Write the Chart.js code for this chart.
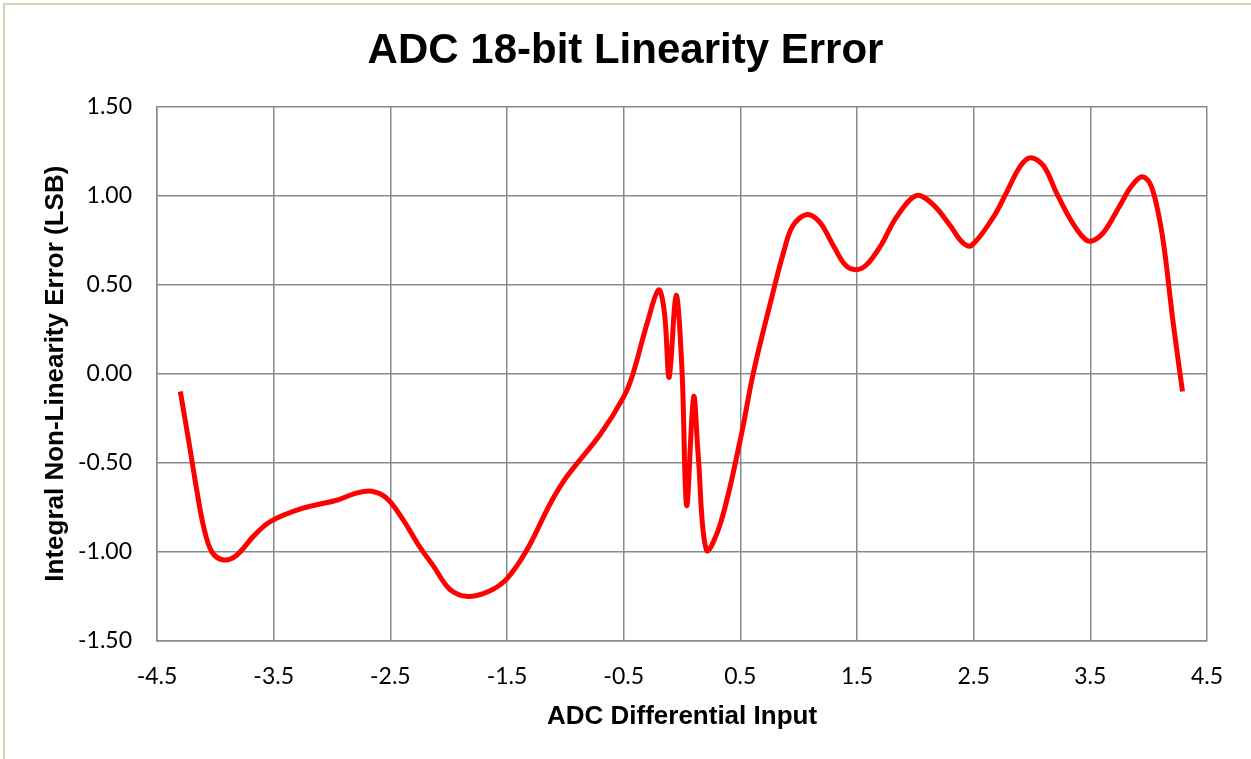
<!DOCTYPE html>
<html lang="en">
<head>
    <meta charset="UTF-8">
    <title>ADC 18-bit Linearity Error</title>
    <script src="https://cdn.jsdelivr.net/npm/chart.js"></script>
    <style>
        body { margin:0; background:#fff; }
        #frame { position:absolute; left:3px; top:3px; width:1300px; height:800px; border:2px solid #d8d2ae; }
        #wrap { position:absolute; left:0; top:0; width:1251px; height:759px; }
    </style>
</head>
<body>
    <div id="frame"></div>
    <div id="wrap"><canvas id="myChart"></canvas></div>

    <script>
        // ADC differential input (x) and INL error in LSB (y)
        const inputX = [-4.30, -4.22, -4.16, -4.10, -4.03, -3.93, -3.82, -3.67, -3.53, -3.25, -2.96, -2.79, -2.66, -2.53, -2.39, -2.26, -2.13, -1.99, -1.83, -1.65, -1.50, -1.33, -1.13, -0.99, -0.70, -0.50, -0.42, -0.30, -0.20, -0.15, -0.11, -0.05, 0.00, 0.04, 0.10, 0.14, 0.21, 0.33, 0.50, 0.61, 0.77, 0.87, 0.95, 1.07, 1.18, 1.30, 1.40, 1.49, 1.58, 1.70, 1.84, 2.01, 2.15, 2.30, 2.40, 2.48, 2.67, 2.78, 2.90, 2.99, 3.10, 3.21, 3.33, 3.43, 3.50, 3.61, 3.75, 3.85, 3.94, 4.01, 4.07, 4.13, 4.21, 4.29];
        const inlError = [-0.10, -0.41, -0.65, -0.86, -1.00, -1.045, -1.02, -0.91, -0.83, -0.755, -0.71, -0.67, -0.66, -0.70, -0.82, -0.96, -1.08, -1.21, -1.25, -1.22, -1.15, -0.99, -0.73, -0.58, -0.34, -0.13, 0.00, 0.28, 0.47, 0.34, -0.02, 0.44, 0.02, -0.74, -0.13, -0.47, -0.99, -0.84, -0.37, 0.00, 0.43, 0.68, 0.83, 0.893, 0.85, 0.715, 0.61, 0.584, 0.61, 0.715, 0.88, 1.00, 0.95, 0.83, 0.74, 0.719, 0.88, 1.015, 1.165, 1.212, 1.165, 1.015, 0.865, 0.771, 0.743, 0.79, 0.94, 1.05, 1.105, 1.07, 0.94, 0.72, 0.285, -0.10];

        const xTicks = ['-4.5', '-3.5', '-2.5', '-1.5', '-0.5', '0.5', '1.5', '2.5', '3.5', '4.5'];
        const yTicks = ['-1.50', '-1.00', '-0.50', '0.00', '0.50', '1.00', '1.50'];

        const points = inputX.map((x, i) => ({x: x, y: inlError[i]}));
        const gridColor = '#8a8a8a';
        const tickFont = {family: 'Lato', size: 23};
        const boldFont = (sz) => ({family: 'Liberation Sans', size: sz, weight: 'bold'});

        const ctx = document.querySelector('#myChart').getContext('2d');
        const myChart = new Chart(ctx, {
            type: 'scatter',
            data: {
                datasets: [{
                    data: points,
                    showLine: true,
                    borderColor: '#ff0000',
                    borderWidth: 5,
                    pointRadius: 0,
                    tension: 0.35,
                    fill: false
                }]
            },
            options: {
                responsive: true,
                maintainAspectRatio: false,
                animation: false,
                layout: { padding: {left: 0, right: 0, top: 26, bottom: 0} },
                plugins: {
                    legend: { display: false },
                    tooltip: { enabled: false },
                    title: {
                        display: true,
                        text: 'ADC 18-bit Linearity Error',
                        color: '#000',
                        font: boldFont(42),
                        padding: {top: 0, bottom: 30}
                    }
                },
                scales: {
                    x: {
                        type: 'linear',
                        min: -4.5,
                        max: 4.5,
                        afterFit: (s) => { s.height = 118; s.paddingRight = 44; },
                        ticks: {
                            stepSize: 1,
                            color: '#000',
                            font: tickFont,
                            padding: 22,
                            maxRotation: 0,
                            callback: (v, i) => xTicks[i]
                        },
                        grid: { color: gridColor, lineWidth: 1.5, drawTicks: false },
                        border: { color: gridColor, width: 1.5 },
                        title: {
                            display: true,
                            text: 'ADC Differential Input',
                            color: '#000',
                            font: boldFont(26),
                            padding: {top: 0, bottom: 27}
                        }
                    },
                    y: {
                        min: -1.5,
                        max: 1.5,
                        afterFit: (s) => { s.width = 157; },
                        ticks: {
                            stepSize: 0.5,
                            color: '#000',
                            font: tickFont,
                            padding: 25,
                            callback: (v, i) => yTicks[i]
                        },
                        grid: { color: gridColor, lineWidth: 1.5, drawTicks: false },
                        border: { color: gridColor, width: 1.5 },
                        title: {
                            display: true,
                            text: 'Integral Non-Linearity Error (LSB)',
                            color: '#000',
                            font: boldFont(26),
                            padding: {top: 40, bottom: 0}
                        }
                    }
                }
            }
        });
    </script>
</body>
</html>
